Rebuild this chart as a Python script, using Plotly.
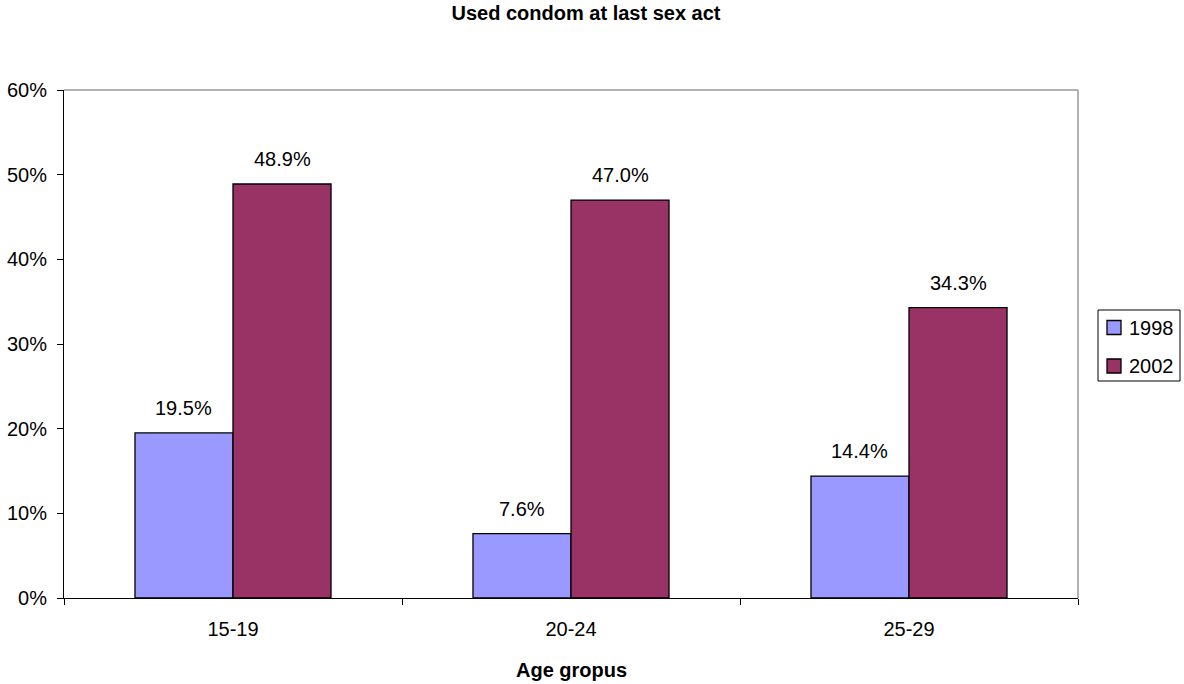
import plotly.graph_objects as go

age_groups = ["15-19", "20-24", "25-29"]
years = ["1998", "2002"]
share_1998 = [19.5, 7.6, 14.4]
share_2002 = [48.9, 47.0, 34.3]
bar_colors = ["#9999FF", "#993366"]
y_ticks = [0, 10, 20, 30, 40, 50, 60]

font_family = "Liberation Sans, Arial, sans-serif"

W, H = 1184, 684
L, R, T, B = 64, 1078, 90, 598   # plot-area edges in pixels


def px_x(px):
    return (px - L) / (R - L)


def px_y(py):
    return (B - py) / (B - T)


fig = go.Figure()
for name, vals, col in zip(years, [share_1998, share_2002], bar_colors):
    fig.add_trace(go.Bar(
        name=name, x=age_groups, y=vals, showlegend=False,
        marker=dict(color=col, line=dict(color="black", width=1.3)),
    ))

bargap = 0.42
bar_w = (1 - bargap) / 2
offsets = [-bar_w / 2, bar_w / 2]

# value labels above each bar
for vals, off in zip([share_1998, share_2002], offsets):
    for i, v in enumerate(vals):
        fig.add_annotation(
            x=i + off, y=v, xref="x", yref="y",
            text=f"{v:.1f}%", showarrow=False,
            yanchor="bottom", yshift=12,
            font=dict(size=20, color="black", family=font_family),
        )

# x-axis title
fig.add_annotation(
    x=0.5, y=px_y(670), xref="paper", yref="paper",
    text="<b>Age gropus</b>", showarrow=False, yanchor="middle",
    font=dict(size=20, color="black", family=font_family),
)

# legend box drawn by hand
fig.add_shape(type="rect", xref="paper", yref="paper",
              x0=px_x(1098), x1=px_x(1180), y0=px_y(381), y1=px_y(310),
              line=dict(color="black", width=1), fillcolor="white")
for name, col, cy in zip(years, bar_colors, [327.5, 366]):
    fig.add_shape(type="rect", xref="paper", yref="paper",
                  x0=px_x(1107), x1=px_x(1121), y0=px_y(cy + 7), y1=px_y(cy - 7),
                  line=dict(color="black", width=1.3), fillcolor=col)
    fig.add_annotation(x=px_x(1127), y=px_y(cy), xref="paper", yref="paper",
                       text=name, showarrow=False, xanchor="left", yanchor="middle",
                       font=dict(size=20, color="black", family=font_family))

fig.update_layout(
    width=W, height=H,
    margin=dict(l=L, r=W - R, t=T, b=H - B, autoexpand=False),
    paper_bgcolor="white", plot_bgcolor="white",
    barmode="group", bargap=bargap, bargroupgap=0,
    title=dict(text="<b>Used condom at last sex act</b>", x=586 / W, xanchor="center",
               y=1 - 13 / H, yanchor="middle",
               font=dict(size=20, color="black", family=font_family)),
    font=dict(family=font_family, color="black", size=20),
    showlegend=False,
    xaxis=dict(
        type="category", showline=True, linecolor="black", linewidth=1,
        ticks="outside", tickson="boundaries", ticklen=6, tickcolor="black",
        showgrid=False, zeroline=False, automargin=False,
        tickfont=dict(size=20), ticklabelstandoff=13,
    ),
    yaxis=dict(
        range=[0, 60], tickvals=y_ticks,
        ticktext=[f"{t}%" for t in y_ticks],
        showline=True, linecolor="black", linewidth=1,
        ticks="outside", ticklen=6, tickcolor="black",
        showgrid=False, zeroline=False, automargin=False,
        tickfont=dict(size=20), ticklabelstandoff=6,
    ),
)

# grey frame on the top and right edges of the plot area
fig.add_shape(type="line", xref="paper", yref="paper", x0=0, x1=1, y0=1, y1=1,
              line=dict(color="#999999", width=1.5))
fig.add_shape(type="line", xref="paper", yref="paper", x0=1, x1=1, y0=0, y1=1,
              line=dict(color="#999999", width=1.5))

fig.write_html("out.html")
